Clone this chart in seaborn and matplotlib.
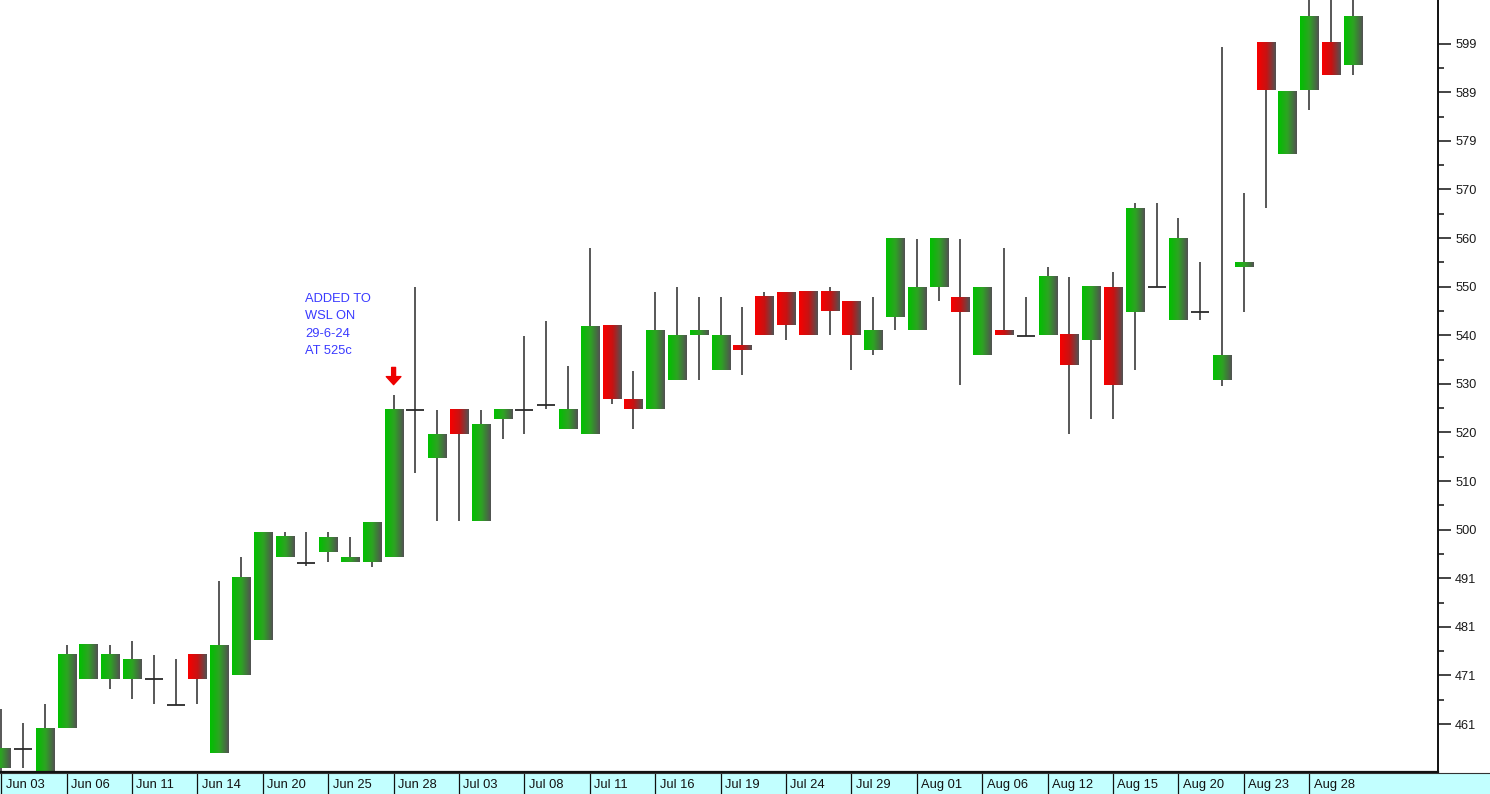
import numpy as np
import pandas as pd
import seaborn as sns
import matplotlib
matplotlib.use("Agg")
import matplotlib.pyplot as plt
from matplotlib.colors import LinearSegmentedColormap
from matplotlib.ticker import FixedLocator, FixedFormatter, NullFormatter

# JSE trading days, Youth Day (17 Jun) and Women's Day (9 Aug) closed
dates = pd.bdate_range("2024-06-03", "2024-08-30")
dates = dates[~dates.isin(pd.to_datetime(["2024-06-17", "2024-08-09"]))]

opens = [452.0, 455.9, 451.0, 460.1, 470.0, 470.0, 470.0, 470.0, 464.8, 475.0,
         455.1, 471.0, 478.0, 494.9, 493.7, 496.0, 493.9, 493.9, 494.9, 524.8,
         515.0, 524.8, 502.1, 522.9, 524.8, 525.8, 520.9, 519.9, 541.8, 526.9,
         525.0, 530.8, 539.9, 532.8, 537.8, 547.7, 548.7, 548.7, 548.7, 546.7,
         536.9, 543.7, 541.0, 549.8, 547.7, 535.9, 540.9, 539.8, 539.9, 539.9,
         538.9, 549.7, 544.7, 549.7, 543.0, 544.6, 530.8, 553.9, 599.5, 576.8,
         589.8, 599.5, 594.8]
highs = [464.1, 461.1, 465.0, 477.1, 477.0, 477.1, 477.8, 475.0, 474.1, 475.0,
         490.0, 494.9, 499.9, 499.9, 499.9, 499.9, 499.0, 501.9, 527.9, 549.7,
         524.8, 524.8, 524.8, 524.8, 539.8, 542.9, 533.7, 557.6, 541.8, 532.7,
         548.7, 549.7, 547.7, 547.7, 545.7, 548.7, 548.7, 548.7, 549.7, 546.7,
         547.7, 559.6, 559.6, 559.6, 559.6, 549.7, 557.6, 547.7, 553.8, 551.7,
         549.7, 552.7, 566.8, 566.8, 563.7, 554.8, 598.5, 568.8, 599.5, 589.6,
         610.0, 610.0, 610.0]
lows = [451.5, 452.0, 450.8, 460.1, 470.0, 468.0, 466.0, 465.0, 464.8, 465.0,
        455.1, 471.0, 478.0, 494.9, 493.0, 493.9, 493.9, 492.9, 494.9, 511.9,
        502.1, 502.1, 502.1, 518.8, 519.9, 525.0, 520.9, 519.9, 526.0, 520.8,
        525.0, 530.8, 530.8, 532.8, 531.8, 539.9, 538.9, 539.9, 539.9, 532.8,
        535.9, 541.0, 541.0, 546.8, 529.8, 535.9, 539.9, 539.8, 539.9, 519.9,
        522.9, 522.9, 532.8, 549.7, 543.0, 543.0, 529.7, 544.7, 565.8, 576.8,
        585.7, 592.8, 592.8]
closes = [455.9, 455.9, 460.0, 475.0, 477.0, 475.0, 474.0, 470.0, 464.8, 470.0,
          477.0, 490.8, 499.9, 499.0, 493.7, 499.0, 494.9, 501.9, 524.8, 524.8,
          519.7, 519.9, 521.8, 524.8, 524.8, 525.8, 524.8, 541.8, 526.9, 525.0,
          540.9, 539.8, 540.9, 539.8, 536.9, 539.9, 542.0, 539.9, 544.8, 539.9,
          540.9, 559.6, 549.7, 559.6, 544.7, 549.7, 539.9, 539.8, 551.7, 533.8,
          549.7, 529.8, 565.7, 549.7, 559.6, 544.6, 535.7, 554.8, 589.8, 589.6,
          604.7, 592.8, 604.7]

y_tick_labels = ["461", "471", "481", "491", "500", "510", "520", "530",
                 "540", "550", "560", "570", "579", "589", "599"]
note = "ADDED TO\nWSL ON\n29-6-24\nAT 525c"
note_date = "2024-06-28"

df = pd.DataFrame({"date": dates, "open": opens, "high": highs,
                   "low": lows, "close": closes})
df["x"] = np.arange(len(df))

sns.set_theme(style="white")
plt.rcParams["font.family"] = ["Liberation Sans", "DejaVu Sans"]

W, H = 1490, 794
fig = plt.figure(figsize=(W / 100, H / 100), dpi=100)
ax = fig.add_axes([0, 22 / H, 1438 / W, 772 / H])

green = LinearSegmentedColormap.from_list("g", ["#00c000", "#2ea323", "#525252"])
red = LinearSegmentedColormap.from_list("r", ["#f80000", "#c81212", "#525252"])
grad = np.linspace(0, 1, 40).reshape(1, -1)
bw = 0.83

# wicks
ax.vlines(df.x, df.low, df.high, color="#2a2a2a", lw=1.1, zorder=1)

# bodies with a left-to-right shade
for r in df.itertuples():
    if r.open == r.close:
        ax.hlines(r.open, r.x - bw / 2, r.x + bw / 2, color="#2a2a2a", lw=1.3, zorder=2)
    else:
        cmap = green if r.close > r.open else red
        lo, hi = sorted([r.open, r.close])
        ax.imshow(grad, cmap=cmap, aspect="auto", interpolation="bilinear",
                  extent=[r.x - bw / 2, r.x + bw / 2, lo, hi], zorder=2)

# note and arrow at the day it was added
jx = int(df.index[df.date == pd.Timestamp(note_date)][0])
ax.text(jx - 4.05, 548.6, note, color="#3a3aff", fontsize=9.3,
        va="top", ha="left", linespacing=1.62)
ax.annotate("", xy=(jx, 529.9), xytext=(jx, 533.4),
            arrowprops=dict(facecolor="#ee0000", edgecolor="#ee0000",
                            width=2.8, headwidth=10.5, headlength=5.8, shrink=0))

x0 = -1.2 / 21.8
x1 = (1438 - 1.2) / 21.8
ax.set_xlim(x0, x1)
ax.set_ylim(451.2, 608.06)

ticks = np.linspace(460.95, 599.2, 15)
ax.yaxis.tick_right()
ax.yaxis.set_major_locator(FixedLocator(ticks))
ax.yaxis.set_major_formatter(FixedFormatter(y_tick_labels))
ax.yaxis.set_minor_locator(FixedLocator((ticks[:-1] + ticks[1:]) / 2))
ax.yaxis.set_minor_formatter(NullFormatter())
ax.tick_params(axis="y", which="major", right=True, left=False, length=9.4,
               width=1.1, pad=3, labelsize=9.2, labelcolor="#1a1a1a", color="#111111")
ax.tick_params(axis="y", which="minor", right=True, left=False, length=4.5,
               width=1.1, color="#111111")
ax.set_xticks([])
for s in ["top", "left"]:
    ax.spines[s].set_visible(False)
ax.spines["right"].set_color("#111111")
ax.spines["right"].set_linewidth(1.4)
ax.spines["bottom"].set_color("#111111")
ax.spines["bottom"].set_linewidth(1.6)
ax.set_facecolor("white")

# date strip along the bottom
bx = fig.add_axes([0, 0, 1, 21 / H])
bx.set_facecolor("#c2ffff")
bx.set_xlim(x0, (W - 1.2) / 21.8)
bx.set_ylim(0, 1)
bx.set_xticks([])
bx.set_yticks([])
for s in ["left", "right", "bottom"]:
    bx.spines[s].set_visible(False)
bx.spines["top"].set_color("#333333")
bx.spines["top"].set_linewidth(0.8)
lab = df.iloc[::3]
bx.vlines(lab.x, 0, 1, color="#111111", lw=0.9)
for r in lab.itertuples():
    bx.text(r.x + 0.2, 0.45, r.date.strftime("%b %d"), fontsize=9.3,
            ha="left", va="center", color="#111111")

fig.savefig("out.png", dpi=100)
